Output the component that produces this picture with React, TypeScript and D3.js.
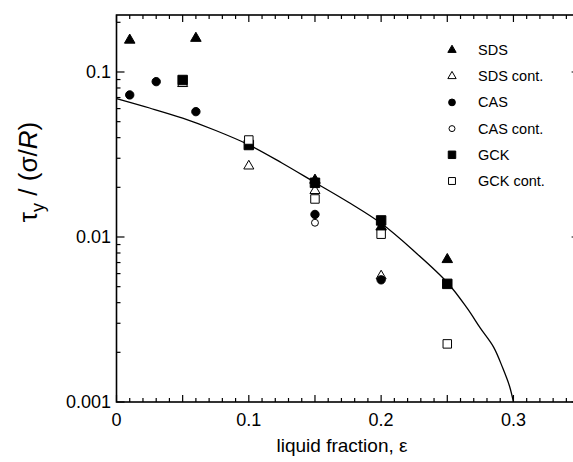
import React from "react";
import * as d3 from "d3";

// yield stress data: [liquid fraction, tau_y / (sigma/R)]
const sds = [[0.01, 0.156], [0.06, 0.16], [0.15, 0.0221], [0.2, 0.0115], [0.25, 0.0073]];
const sdsCont = [[0.05, 0.085], [0.1, 0.0269], [0.15, 0.0191], [0.2, 0.0058]];
const cas = [[0.01, 0.0726], [0.03, 0.0874], [0.06, 0.0575], [0.15, 0.0137], [0.2, 0.0055]];
const casCont = [[0.15, 0.0122]];
const gck = [[0.05, 0.0894], [0.1, 0.0361], [0.15, 0.0213], [0.2, 0.0126], [0.25, 0.0052]];
const gckCont = [[0.1, 0.0387], [0.15, 0.017], [0.2, 0.0104], [0.25, 0.00225]];

// fitted line
const fit = [
  [0, 0.069], [0.025, 0.0605], [0.05, 0.0525], [0.075, 0.0442], [0.1, 0.0362],
  [0.125, 0.0281], [0.15, 0.0214], [0.175, 0.0163], [0.2, 0.0121],
  [0.225, 0.0082], [0.25, 0.0053], [0.265, 0.0037], [0.275, 0.0028],
  [0.285, 0.00215], [0.292, 0.0016], [0.297, 0.00125], [0.3, 0.001],
];

const xLabels = [0, 0.1, 0.2, 0.3];
const yLabels = [0.001, 0.01, 0.1];

const font = "Arial, 'Liberation Sans', sans-serif";

const series = [
  { name: "SDS", data: sds, shape: d3.symbolTriangle, open: false, size: 48, lsize: 30 },
  { name: "SDS cont.", data: sdsCont, shape: d3.symbolTriangle, open: true, size: 44, lsize: 30 },
  { name: "CAS", data: cas, shape: d3.symbolCircle, open: false, size: 55, lsize: 36 },
  { name: "CAS cont.", data: casCont, shape: d3.symbolCircle, open: true, size: 38, lsize: 28 },
  { name: "GCK", data: gck, shape: d3.symbolSquare, open: false, size: 90, lsize: 56 },
  { name: "GCK cont.", data: gckCont, shape: d3.symbolSquare, open: true, size: 72, lsize: 48 },
];

export default function App() {
  const left = 116.5, right = 579.6, top = 15, bottom = 402;
  const x = d3.scaleLinear().domain([0, 0.35]).range([left, right]);
  const y = d3.scaleLog().domain([0.001, 0.2215]).range([bottom, top]);

  const xMinor = d3.range(0, 36).map((i) => i / 100);
  const yMinor: number[] = [];
  [0.001, 0.01, 0.1].forEach((d) => {
    for (let k = 1; k < 10; k++) if (d * k <= 0.2215) yMinor.push(d * k);
  });

  const line = d3
    .line()
    .x((d) => x(d[0]))
    .y((d) => y(d[1]))
    .curve(d3.curveCatmullRom.alpha(0.5));

  const sym = (shape, size) => d3.symbol().type(shape).size(size)();

  return (
    <svg width={573} height={462} style={{ position: "absolute", left: 0, top: 0 }}>
      <defs>
        <clipPath id="plot">
          <rect x={left} y={top} width={right - left} height={bottom - top} />
        </clipPath>
      </defs>

      {/* frame */}
      <rect x={left} y={top} width={right - left} height={bottom - top} fill="none" stroke="#000" strokeWidth={1.6} />

      {/* x ticks, bottom and top */}
      {xMinor.map((t, i) => {
        const len = i % 5 === 0 ? 7 : 4;
        return (
          <g key={"xt" + i} stroke="#000" strokeWidth={1.2}>
            <line x1={x(t)} x2={x(t)} y1={bottom} y2={bottom - len} />
            <line x1={x(t)} x2={x(t)} y1={top} y2={top + len} />
          </g>
        );
      })}
      {xLabels.map((t) => (
        <text key={"xl" + t} x={x(t)} y={426} textAnchor="middle" fontFamily={font} fontSize={18}>
          {t}
        </text>
      ))}

      {/* y ticks, left and right */}
      {yMinor.map((t, i) => {
        const major = yLabels.includes(t);
        const len = major ? 8 : 4;
        return (
          <g key={"yt" + i} stroke="#000" strokeWidth={1.2}>
            <line x1={left} x2={left + len} y1={y(t)} y2={y(t)} />
            <line x1={right} x2={right - len} y1={y(t)} y2={y(t)} />
          </g>
        );
      })}
      {yLabels.map((t) => (
        <text key={"yl" + t} x={111} y={y(t) + 6} textAnchor="end" fontFamily={font} fontSize={18}>
          {t}
        </text>
      ))}

      {/* axis titles */}
      <text x={342} y={452} textAnchor="middle" fontFamily={font} fontSize={19}>
        liquid fraction, ε
      </text>
      <text transform="translate(37,172) rotate(-90)" textAnchor="middle" fontFamily={font} fontSize={26}>
        τ<tspan fontSize={18} dy={7}>y</tspan>
        <tspan dy={-7}> / (σ/</tspan>
        <tspan fontStyle="italic">R</tspan>
        <tspan>)</tspan>
      </text>

      <g clipPath="url(#plot)">
        <path d={line(fit) ?? ""} fill="none" stroke="#000" strokeWidth={1.3} />
        {series.map((s) =>
          s.data.map((d, i) => (
            <path
              key={s.name + i}
              d={sym(s.shape, s.size) ?? ""}
              transform={`translate(${x(d[0])},${y(d[1])})`}
              fill={s.open ? "#fff" : "#000"}
              stroke="#000"
              strokeWidth={1}
            />
          ))
        )}
      </g>

      {/* legend */}
      {series.map((s, i) => {
        const ly = 50 + i * 26.2;
        return (
          <g key={"lg" + i}>
            <path
              d={sym(s.shape, s.lsize) ?? ""}
              transform={`translate(452,${ly})`}
              fill={s.open ? "#fff" : "#000"}
              stroke="#000"
              strokeWidth={1}
            />
            <text x={478} y={ly + 5} fontFamily={font} fontSize={14.5}>
              {s.name}
            </text>
          </g>
        );
      })}
    </svg>
  );
}
